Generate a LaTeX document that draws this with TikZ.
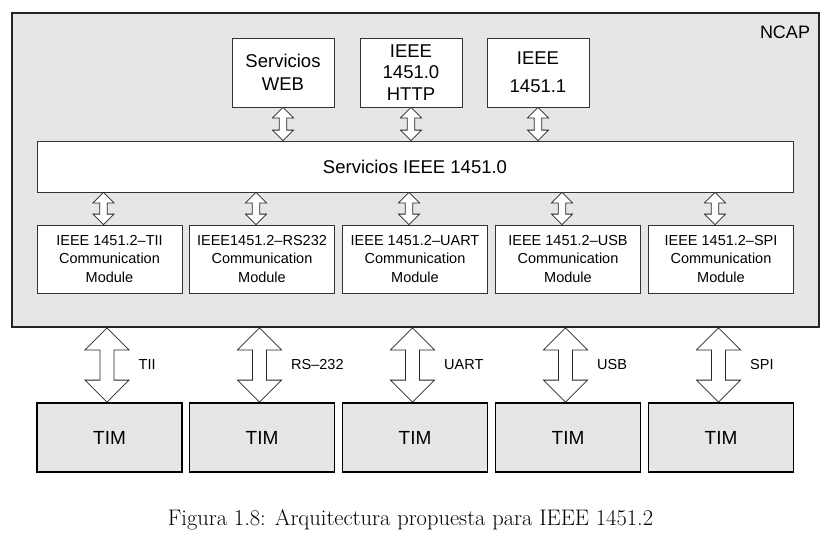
\documentclass[tikz,border=0pt]{standalone}
\usepackage{fontspec}
\newfontfamily\hv[Ligatures=TeX]{Liberation Sans}
\usetikzlibrary{calc}
\definecolor{boxgray}{HTML}{E6E6E6}
\newcommand\biarrow[5]{%
  \draw[arrsty] let \p1=(#1), \p2=(#2) in
    (\x1,\y1) -- (\x1+#3,\y1-#5) -- (\x1+#4,\y1-#5) -- (\x1+#4,\y2+#5) --
    (\x1+#3,\y2+#5) -- (\x1,\y2) -- (\x1-#3,\y2+#5) -- (\x1-#4,\y2+#5) --
    (\x1-#4,\y1-#5) -- (\x1-#3,\y1-#5) -- cycle;}
\begin{document}
\begin{tikzpicture}[x=1pt,y=-1pt,
  thinbox/.style={draw=black!80, line width=0.8pt, fill=white, inner sep=0pt, align=center, font=\hv},
  topbox/.style={thinbox, minimum width=102pt, minimum height=69pt},
  modbox/.style={thinbox, minimum width=145pt, minimum height=68pt, font=\hv\fontsize{14.5}{18.3}\selectfont},
  timbox/.style={draw=black, line width=1.8pt, fill=boxgray, minimum width=145pt, minimum height=69pt, inner sep=0pt, font=\hv\fontsize{19}{22}\selectfont},
  lbl/.style={anchor=west, inner sep=0pt, font=\hv\fontsize{14.5}{17}\selectfont},
  arrsty/.style={draw=black!85, line width=0.8pt, fill=white, line join=miter}]
\useasboundingbox (0,0) rectangle (833,543);
% NCAP
\node[draw=black!85, line width=1.8pt, fill=boxgray, minimum width=807pt, minimum height=314pt, inner sep=0pt] (ncap) at (415.5,170) {};
\node[inner sep=0pt, font=\hv\fontsize{18}{21}\selectfont] (ncaplbl) at (785,32) {NCAP};
% top boxes
\node[topbox, font=\hv\fontsize{18.5}{23}\selectfont] (web) at (283,72.5) {Servicios\\WEB};
\node[topbox, font=\hv\fontsize{18.5}{21.5}\selectfont] (http) at (411,72.5) {IEEE\\1451.0\\HTTP};
\node[topbox, font=\hv\fontsize{18.5}{28}\selectfont] (i11) at (538,72.5) {IEEE\\1451.1};
% services bar
\node[thinbox, minimum width=756pt, minimum height=51pt, font=\hv\fontsize{18.5}{22}\selectfont] (svc) at (415,166.5) {Servicios IEEE 1451.0};
% modules
\node[modbox] (m1) at (109.5,259) {IEEE 1451.2--TII\\Communication\\Module};
\node[modbox] (m2) at (262,259) {IEEE1451.2--RS232\\Communication\\Module};
\node[modbox] (m3) at (415,259) {IEEE 1451.2--UART\\Communication\\Module};
\node[modbox] (m4) at (568,259) {IEEE 1451.2--USB\\Communication\\Module};
\node[modbox] (m5) at (721,259) {IEEE 1451.2--SPI\\Communication\\Module};
% TIMs
\node[timbox] (t1) at (109.5,437.5) {TIM};
\node[timbox] (t2) at (262,437.5) {TIM};
\node[timbox] (t3) at (415,437.5) {TIM};
\node[timbox] (t4) at (568,437.5) {TIM};
\node[timbox] (t5) at (721,437.5) {TIM};
% small arrows top
\foreach \nm in {web,http,i11} {\biarrow{\nm.south}{svc.north}{10.5}{3.8}{10.5}}
% small arrows bottom
\foreach \nm in {m1,m2,m3,m4,m5} {\biarrow{$(svc.south -| \nm.north)+(-6,0)$}{\nm.north}{10.5}{3.8}{10.5}}
% big arrows
\foreach \nm/\lb in {t1/TII,t2/RS--232,t3/UART,t4/USB,t5/SPI} {
  \biarrow{$(ncap.south -| \nm.north)+(-2.5,0)$}{\nm.north}{22}{7}{22}
  \node[lbl] (lab\nm) at ($(\nm.north)+(29,-38)$) {\lb};
}
% caption
\node[anchor=base, inner sep=0pt, font=\fontsize{22.5}{26}\selectfont] (cap) at (410.5,525) {Figura 1.8: Arquitectura propuesta para IEEE 1451.2};
\end{tikzpicture}
\end{document}
